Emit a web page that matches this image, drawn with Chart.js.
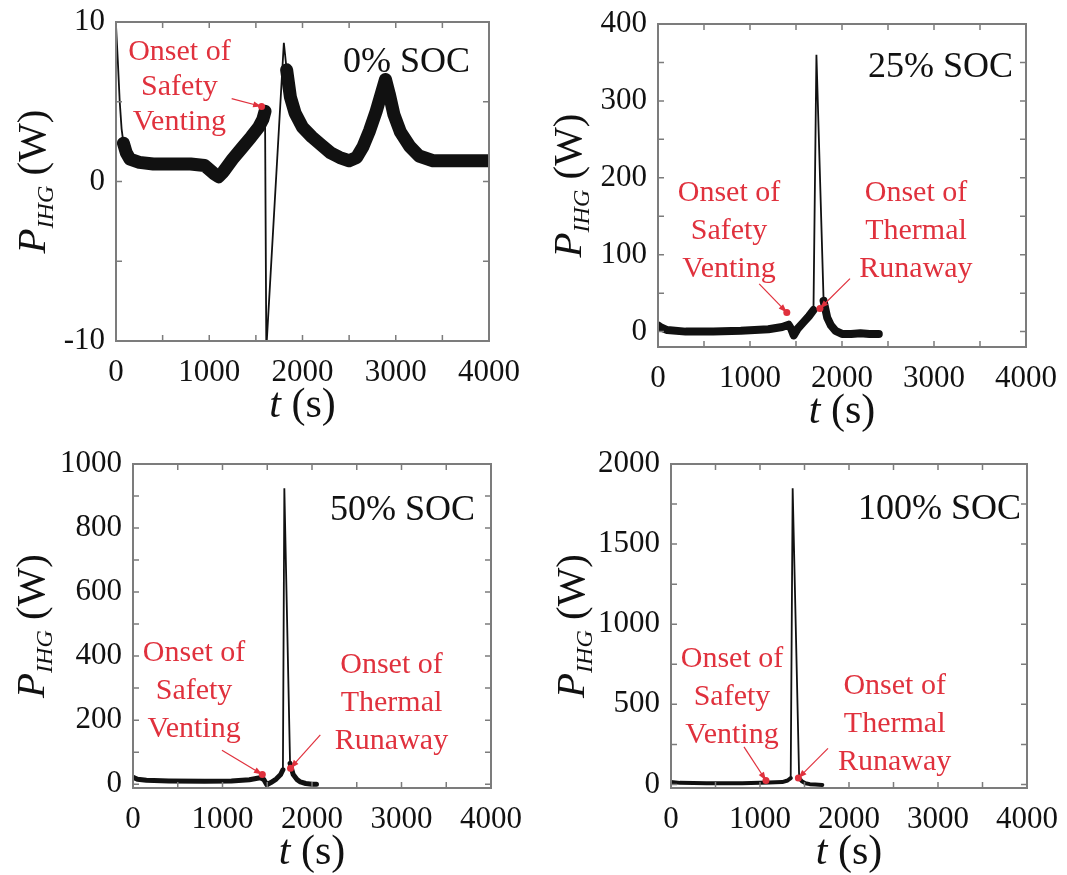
<!DOCTYPE html>
<html>
<head>
<meta charset="utf-8">
<script src="https://cdn.jsdelivr.net/npm/chart.js@4.4.1/dist/chart.umd.min.js"></script>
<style>
  html, body { margin:0; padding:0; background:#fff; }
  #wrap { position:relative; width:1067px; height:875px; }
  #wrap canvas { position:absolute; }
</style>
</head>
<body>
<div id="wrap">
  <canvas id="c0" width="533" height="437" style="left:0;top:0"></canvas>
  <canvas id="c1" width="534" height="437" style="left:533px;top:0"></canvas>
  <canvas id="c2" width="533" height="438" style="left:0;top:437px"></canvas>
  <canvas id="c3" width="534" height="438" style="left:533px;top:437px"></canvas>
</div>
<script>
// time axis (s)
const xTicks = [0, 500, 1000, 1500, 2000, 2500, 3000, 3500, 4000];
const xLabels = [0, 1000, 2000, 3000, 4000];

// 0% SOC
const t0 = [0, 20, 40, 60, 80, 110, 150, 250, 400, 600, 800, 950, 1050, 1100, 1150, 1250, 1350, 1450, 1530, 1575,
  1598, 1612, 1800, 1830, 1870, 1920, 2000, 2100, 2200, 2300, 2400, 2500, 2580, 2650, 2720, 2790, 2850, 2890, 2930, 2980,
  3050, 3150, 3250, 3400, 3600, 3800, 4000];
const p0 = [9.8, 7.5, 5.0, 3.3, 2.4, 1.8, 1.4, 1.2, 1.1, 1.1, 1.1, 1.0, 0.5, 0.3, 0.6, 1.4, 2.1, 2.8, 3.4, 3.9,
  4.4, -10.5, 8.7, 7.0, 5.3, 4.3, 3.4, 2.8, 2.3, 1.8, 1.5, 1.3, 1.5, 2.2, 3.2, 4.4, 5.6, 6.4, 5.5, 4.2,
  3.1, 2.2, 1.6, 1.3, 1.3, 1.3, 1.3];
const quiet0 = [[-1, 80], [1598, 1830]];
const yTicks0 = [-10, -5, 0, 5, 10];
const yLabels0 = [-10, 0, 10];

// 25% SOC
const t1 = [0, 40, 100, 300, 600, 900, 1200, 1350, 1420, 1450, 1475, 1520, 1580, 1640, 1690, 1722, 1800, 1840, 1880, 1930,
  2000, 2100, 2200, 2300, 2400];
const p1 = [8, 5, 2, 0, 0, 1, 3, 6, 9, 3, -5, 4, 12, 20, 28, 360, 40, 18, 8, 1, -3, -3, -2, -3, -3];
const quiet1 = [[1690, 1800]];
const yTicks1 = [0, 50, 100, 150, 200, 250, 300, 350, 400];
const yLabels1 = [0, 100, 200, 300, 400];

// 50% SOC
const t2 = [0, 50, 150, 400, 800, 1100, 1300, 1420, 1460, 1495, 1540, 1600, 1650, 1675, 1691, 1755, 1790, 1830, 1870, 1930,
  2000, 2050];
const p2 = [22, 15, 12, 10, 9, 10, 14, 20, 15, -2, 5, 16, 30, 45, 924, 65, 30, 15, 7, 2, 0, 0];
const quiet2 = [[1675, 1755]];
const yTicks2 = [0, 100, 200, 300, 400, 500, 600, 700, 800, 900, 1000];
const yLabels2 = [0, 200, 400, 600, 800, 1000];

// 100% SOC
const t3 = [0, 100, 400, 800, 1100, 1250, 1310, 1345, 1367, 1440, 1470, 1510, 1560, 1620, 1700];
const p3 = [15, 10, 8, 8, 12, 15, 25, 40, 1848, 40, 20, 8, 2, 0, -3];
const quiet3 = [[1345, 1440]];
const yTicks3 = [0, 250, 500, 750, 1000, 1250, 1500, 1750, 2000];
const yLabels3 = [0, 500, 1000, 1500, 2000];

const SERIF = "'Liberation Serif', 'Times New Roman', serif";
const RED = '#e0313d';
const FRAME = '#7c7c7c';

const panels = [
  { id: 'c0', t: t0, p: p0, quiet: quiet0, yMin: -10, yMax: 10, yTicks: yTicks0, yLabels: yLabels0, band: 13,
    left: 116, top: 22, right: 44, xH: 96, yGap: 71, soc: '0% SOC', socDx: 19, socDy: 50, gap: 35,
    notes: [
      { lines: ['Onset of', 'Safety', 'Venting'], at: [680, 5.9], from: [1240, 5.2], to: [1561, 4.7] }
    ] },
  { id: 'c1', t: t1, p: p1, quiet: quiet1, yMin: -20, yMax: 400, yTicks: yTicks1, yLabels: yLabels1, band: 8,
    left: 125, top: 24, right: 41, xH: 90, yGap: 77, soc: '25% SOC', socDx: 13, socDy: 53, gap: 38,
    notes: [
      { lines: ['Onset of', 'Safety', 'Venting'], at: [772, 131], from: [1100, 62], to: [1400, 25] },
      { lines: ['Onset of', 'Thermal', 'Runaway'], at: [2804, 131], from: [2087, 69], to: [1760, 30] }
    ] },
  { id: 'c2', t: t2, p: p2, quiet: quiet2, yMin: -12, yMax: 1000, yTicks: yTicks2, yLabels: yLabels2, band: 5,
    left: 133, top: 27, right: 42, xH: 87, yGap: 89, soc: '50% SOC', socDx: 16, socDy: 56, gap: 38,
    notes: [
      { lines: ['Onset of', 'Safety', 'Venting'], at: [682, 291], from: [994, 106], to: [1445, 30] },
      { lines: ['Onset of', 'Thermal', 'Runaway'], at: [2888, 254], from: [2093, 154], to: [1760, 50] }
    ] },
  { id: 'c3', t: t3, p: p3, quiet: quiet3, yMin: -22, yMax: 2000, yTicks: yTicks3, yLabels: yLabels3, band: 4,
    left: 138, top: 27, right: 40, xH: 87, yGap: 87, soc: '100% SOC', socDx: 6, socDy: 55, gap: 38,
    notes: [
      { lines: ['Onset of', 'Safety', 'Venting'], at: [685, 546], from: [820, 235], to: [1067, 25] },
      { lines: ['Onset of', 'Thermal', 'Runaway'], at: [2513, 374], from: [1764, 225], to: [1431, 40] }
    ] }
];

// frame, inward ticks, axis titles and red notes
function decor(pn) {
  return {
    id: 'decor',
    afterDraw(chart) {
      const ctx = chart.ctx, a = chart.chartArea, xs = chart.scales.x, ys = chart.scales.y;
      ctx.save();
      ctx.strokeStyle = FRAME;
      ctx.lineWidth = 1.5;
      ctx.beginPath();
      xs.ticks.forEach(tk => {
        const px = xs.getPixelForValue(tk.value);
        ctx.moveTo(px, a.bottom); ctx.lineTo(px, a.bottom - 6);
        ctx.moveTo(px, a.top); ctx.lineTo(px, a.top + 6);
      });
      ys.ticks.forEach(tk => {
        const py = ys.getPixelForValue(tk.value);
        ctx.moveTo(a.left, py); ctx.lineTo(a.left + 6, py);
        ctx.moveTo(a.right, py); ctx.lineTo(a.right - 6, py);
      });
      ctx.stroke();
      ctx.lineWidth = 2;
      ctx.strokeRect(a.left, a.top, a.right - a.left, a.bottom - a.top);

      // y title: P_IHG (W)
      ctx.fillStyle = '#111';
      ctx.textBaseline = 'alphabetic';
      ctx.textAlign = 'left';
      ctx.save();
      ctx.translate(a.left - pn.yGap, (a.top + a.bottom) / 2);
      ctx.rotate(-Math.PI / 2);
      const fP = 'italic 41px ' + SERIF, fS = 'italic 24px ' + SERIF, fW = '41px ' + SERIF;
      ctx.font = fP; const wP = ctx.measureText('P').width;
      ctx.font = fS; const wS = ctx.measureText('IHG').width;
      ctx.font = fW; const wW = ctx.measureText(' (W)').width;
      let x0 = -(wP + wS + wW) / 2;
      ctx.font = fP; ctx.fillText('P', x0, 0); x0 += wP;
      ctx.font = fS; ctx.fillText('IHG', x0, 8); x0 += wS;
      ctx.font = fW; ctx.fillText(' (W)', x0, 0);
      ctx.restore();

      // x title: t (s)
      const fT = 'italic 42px ' + SERIF, fU = '42px ' + SERIF;
      ctx.font = fT; const wT = ctx.measureText('t').width;
      ctx.font = fU; const wU = ctx.measureText(' (s)').width;
      let xx = (a.left + a.right) / 2 - (wT + wU) / 2;
      const yb = a.bottom + 76;
      ctx.font = fT; ctx.fillText('t', xx, yb);
      ctx.font = fU; ctx.fillText(' (s)', xx + wT, yb);

      // SOC label
      ctx.font = '36px ' + SERIF;
      ctx.textAlign = 'right';
      ctx.fillText(pn.soc, a.right - pn.socDx, a.top + pn.socDy);

      // red notes with arrows
      ctx.fillStyle = RED;
      ctx.strokeStyle = RED;
      ctx.font = '30px ' + SERIF;
      ctx.textAlign = 'center';
      ctx.textBaseline = 'middle';
      pn.notes.forEach(n => {
        const cx = xs.getPixelForValue(n.at[0]), cy = ys.getPixelForValue(n.at[1]);
        n.lines.forEach((s, i) => ctx.fillText(s, cx, cy + (i - 1) * pn.gap));
        const x1 = xs.getPixelForValue(n.from[0]), y1 = ys.getPixelForValue(n.from[1]);
        const x2 = xs.getPixelForValue(n.to[0]), y2 = ys.getPixelForValue(n.to[1]);
        ctx.lineWidth = 1.2;
        ctx.beginPath(); ctx.moveTo(x1, y1); ctx.lineTo(x2, y2); ctx.stroke();
        const ang = Math.atan2(y2 - y1, x2 - x1);
        ctx.beginPath();
        ctx.moveTo(x2, y2);
        ctx.lineTo(x2 - 9 * Math.cos(ang - 0.35), y2 - 9 * Math.sin(ang - 0.35));
        ctx.lineTo(x2 - 9 * Math.cos(ang + 0.35), y2 - 9 * Math.sin(ang + 0.35));
        ctx.closePath(); ctx.fill();
        ctx.beginPath(); ctx.arc(x2, y2, 3.5, 0, Math.PI * 2); ctx.fill();
      });
      ctx.restore();
    }
  };
}

function inQuiet(x, quiet) {
  return quiet.some(w => x > w[0] && x < w[1]);
}

panels.forEach(pn => {
  const trace = pn.t.map((x, i) => ({ x: x, y: pn.p[i] }));
  const noisy = pn.t.map((x, i) => ({ x: x, y: inQuiet(x, pn.quiet) ? null : pn.p[i] }));
  new Chart(document.getElementById(pn.id), {
    type: 'line',
    data: {
      datasets: [
        { data: noisy, borderColor: '#111', borderWidth: pn.band, borderJoinStyle: 'round', borderCapStyle: 'round',
          pointRadius: 0, spanGaps: false, clip: 0 },
        { data: trace, borderColor: '#111', borderWidth: 1.8, pointRadius: 0, clip: 0 }
      ]
    },
    options: {
      responsive: false,
      animation: false,
      events: [],
      layout: { padding: { left: 0, top: pn.top, right: pn.right, bottom: 0 } },
      plugins: { legend: { display: false }, tooltip: { enabled: false } },
      scales: {
        x: {
          type: 'linear', position: 'bottom', min: 0, max: 4000,
          afterBuildTicks: s => { s.ticks = xTicks.map(v => ({ value: v })); },
          afterFit: s => { s.height = pn.xH; },
          grid: { display: false }, border: { display: false },
          ticks: { autoSkip: false, maxRotation: 0, padding: 5, color: '#111',
            font: { family: SERIF, size: 31 },
            callback: v => xLabels.includes(v) ? String(v) : '' }
        },
        y: {
          type: 'linear', min: pn.yMin, max: pn.yMax,
          afterBuildTicks: s => { s.ticks = pn.yTicks.map(v => ({ value: v })); },
          afterFit: s => { s.width = pn.left; },
          grid: { display: false }, border: { display: false },
          ticks: { autoSkip: false, padding: 3, color: '#111',
            font: { family: SERIF, size: 31 },
            callback: v => pn.yLabels.includes(v) ? String(v) : '' }
        }
      }
    },
    plugins: [decor(pn)]
  });
});
</script>
</body>
</html>
